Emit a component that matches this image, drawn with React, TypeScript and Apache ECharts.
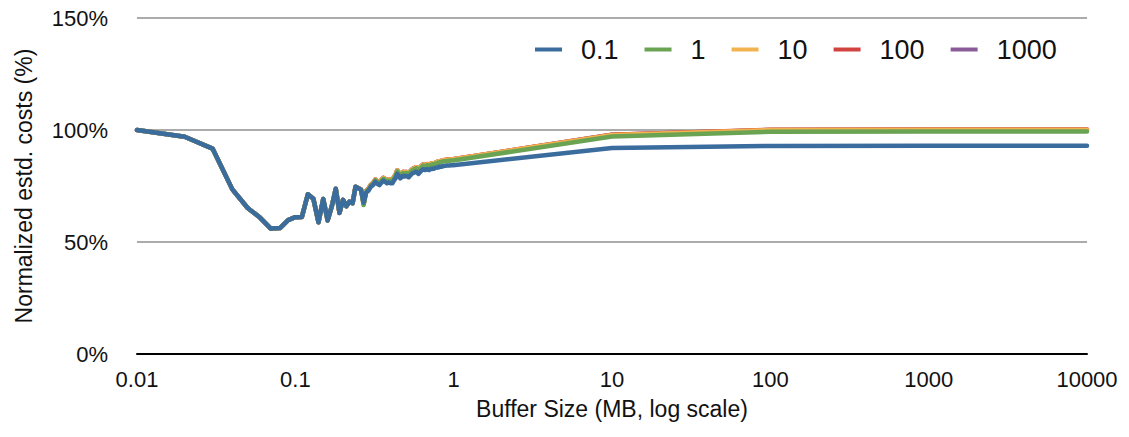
import React, { useEffect, useRef } from "react";
import * as echarts from "echarts";

// Buffer sizes in MB (x values shared by every series)
const bufferSizesMB = [
  0.01, 0.02, 0.03, 0.04, 0.05, 0.06, 0.07, 0.08, 0.09, 0.1,
  0.11, 0.12, 0.13, 0.14, 0.15, 0.16, 0.17, 0.18, 0.19, 0.2,
  0.21, 0.22, 0.23, 0.24, 0.25, 0.26, 0.27, 0.28, 0.29, 0.3,
  0.31, 0.32, 0.33, 0.34, 0.35, 0.36, 0.37, 0.38, 0.39, 0.4,
  0.41, 0.42, 0.43, 0.44, 0.45, 0.46, 0.47, 0.48, 0.49, 0.5,
  0.51, 0.52, 0.53, 0.54, 0.55, 0.56, 0.57, 0.58, 0.59, 0.6,
  0.61, 0.62, 0.63, 0.64, 0.65, 0.66, 0.67, 0.68, 0.69, 0.7,
  0.71, 0.72, 0.73, 0.74, 0.75, 0.76, 0.77, 0.78, 0.79, 0.8,
  0.81, 0.82, 0.83, 0.84, 0.85, 0.86, 0.87, 0.88, 0.89, 0.9,
  0.91, 0.92, 0.93, 0.94, 0.95, 0.96, 0.97, 0.98, 0.99, 1.0,
  10, 100, 1000, 10000,
];

// Costs for 0.01–0.25 MB, identical for every setting
const headCosts = [
  100.0, 97.0, 91.7, 73.5, 65.2,
  60.8, 56.0, 56.2, 59.8, 61.1,
  61.2, 71.3, 69.3, 58.8, 69.2,
  59.6, 66.0, 73.8, 63.0, 68.8,
  66.0, 68.0, 67.3, 74.7, 74.0,
];

// Costs for 0.26–1.00 MB
const tailCosts01 = [
  73.2, 67.5, 72.0, 73.0, 74.7,
  75.5, 76.9, 76.0, 75.4, 76.5,
  77.4, 76.8, 76.2, 76.6, 76.2,
  76.2, 77.5, 78.5, 80.4, 79.5,
  78.4, 79.0, 79.6, 79.2, 79.5,
  79.3, 78.9, 79.6, 80.2, 80.7,
  80.9, 81.2, 81.4, 80.8, 80.4,
  81.0, 81.6, 82.0, 82.5, 82.4,
  82.1, 82.3, 82.6, 82.2, 82.1,
  82.5, 82.7, 82.6, 82.8, 82.7,
  82.9, 83.1, 83.3, 83.2, 83.5,
  83.4, 83.6, 83.7, 83.6, 83.8,
  83.9, 83.9, 84.0, 84.0, 84.1,
  84.1, 84.1, 84.2, 84.2, 84.2,
  84.3, 84.3, 84.3, 84.3, 84.3,
];

const tailCosts1 = [
  73.4, 66.5, 72.4, 73.5, 75.2,
  76.0, 77.5, 76.7, 76.1, 77.3,
  78.2, 77.6, 77.1, 77.5, 77.2,
  77.2, 78.5, 79.6, 81.5, 80.6,
  79.6, 80.2, 80.8, 80.5, 80.8,
  80.7, 80.3, 81.0, 81.6, 82.1,
  82.4, 82.7, 82.9, 82.4, 82.0,
  82.6, 83.2, 83.6, 84.1, 84.0,
  83.8, 84.0, 84.3, 83.9, 83.9,
  84.3, 84.5, 84.5, 84.7, 84.6,
  84.8, 85.0, 85.2, 85.2, 85.5,
  85.4, 85.6, 85.7, 85.7, 85.9,
  86.0, 86.0, 86.1, 86.1, 86.2,
  86.2, 86.2, 86.3, 86.3, 86.3,
  86.4, 86.4, 86.4, 86.4, 86.4,
];

// 0.26–1.00 MB for the 10, 100 and 1000 settings
const tailCostsLarge = [
  73.5, 67.0, 72.7, 73.8, 75.6,
  76.4, 77.9, 77.1, 76.5, 77.8,
  78.7, 78.1, 77.6, 78.0, 77.7,
  77.7, 79.0, 80.1, 82.0, 81.1,
  80.1, 80.7, 81.3, 81.0, 81.3,
  81.2, 80.8, 81.5, 82.1, 82.6,
  82.9, 83.2, 83.4, 82.9, 82.5,
  83.1, 83.7, 84.1, 84.6, 84.5,
  84.3, 84.5, 84.8, 84.4, 84.4,
  84.8, 85.0, 85.0, 85.2, 85.1,
  85.3, 85.5, 85.7, 85.7, 86.0,
  85.9, 86.1, 86.2, 86.2, 86.4,
  86.5, 86.5, 86.6, 86.6, 86.7,
  86.7, 86.7, 86.8, 86.8, 86.8,
  86.9, 86.9, 86.9, 86.9, 86.9,
];

// Costs at 10, 100, 1000 and 10000 MB
const bigCosts01 = [92.0, 92.9, 93.0, 93.0];
const bigCosts1 = [97.1, 99.2, 99.3, 99.3];
const bigCosts10 = [97.8, 100.0, 100.1, 100.1];
const bigCosts100 = [97.9, 100.1, 100.2, 100.2];
const bigCosts1000 = [97.9, 100.0, 100.1, 100.1];

const seriesNames = ["0.1", "1", "10", "100", "1000"];
const seriesColors = ["#3b6c9e", "#6aa352", "#f1b24f", "#d0433f", "#8b5a99"];

const xTickLabels = ["0.01", "0.1", "1", "10", "100", "1000", "10000"];
const yTicks = [0, 50, 100, 150];

const FONT = "'Liberation Sans', Arial, Helvetica, sans-serif";

function pairs(values: number[]) {
  return bufferSizesMB.map((x, i) => [x, values[i]]);
}

export default function App() {
  const ref = useRef<HTMLDivElement>(null);

  useEffect(() => {
    if (!ref.current) return;
    const chart = echarts.init(ref.current, undefined, { renderer: "svg" });

    const seriesValues = [
      [...headCosts, ...tailCosts01, ...bigCosts01],
      [...headCosts, ...tailCosts1, ...bigCosts1],
      [...headCosts, ...tailCostsLarge, ...bigCosts10],
      [...headCosts, ...tailCostsLarge, ...bigCosts100],
      [...headCosts, ...tailCostsLarge, ...bigCosts1000],
    ];

    chart.setOption({
      animation: false,
      backgroundColor: "#ffffff",
      grid: { left: 137, right: 42, top: 18, bottom: 83 },
      legend: {
        left: 530,
        top: 31,
        icon: "rect",
        itemWidth: 27,
        itemHeight: 4,
        itemGap: 26,
        data: seriesNames,
        textStyle: {
          fontFamily: FONT,
          fontSize: 27,
          color: "#111",
          padding: [0, 0, 0, 14],
        },
      },
      xAxis: {
        type: "log",
        logBase: 10,
        min: 0.01,
        max: 10000,
        name: "Buffer Size (MB, log scale)",
        nameLocation: "middle",
        nameGap: 43,
        nameTextStyle: { fontFamily: FONT, fontSize: 23, color: "#111" },
        axisLine: { show: true, lineStyle: { color: "#000", width: 2 } },
        axisTick: { show: false },
        splitLine: { show: false },
        minorTick: { show: false },
        axisLabel: {
          fontFamily: FONT,
          fontSize: 22,
          color: "#111",
          margin: 14,
          formatter: (v: number) => xTickLabels[Math.round(Math.log10(v)) + 2] ?? "",
        },
      },
      yAxis: {
        type: "value",
        min: yTicks[0],
        max: yTicks[yTicks.length - 1],
        interval: 50,
        name: "Normalized estd. costs (%)",
        nameLocation: "middle",
        nameGap: 102,
        nameTextStyle: { fontFamily: FONT, fontSize: 23, color: "#111" },
        axisLine: { show: false },
        axisTick: { show: false },
        splitLine: { show: true, lineStyle: { color: "#ababab", width: 2 } },
        axisLabel: {
          fontFamily: FONT,
          fontSize: 22,
          color: "#111",
          margin: 29,
          formatter: (v: number) => `${v}%`,
        },
      },
      series: seriesNames.map((name, i) => ({
        name,
        type: "line",
        data: pairs(seriesValues[i]),
        showSymbol: false,
        symbol: "none",
        z: 10 - i,
        color: seriesColors[i],
        lineStyle: { width: 4.5, color: seriesColors[i], join: "round", cap: "round" },
      })),
    });

    return () => chart.dispose();
  }, []);

  return (
    <div
      ref={ref}
      style={{ position: "fixed", left: 0, top: 0, width: 1129, height: 437 }}
    />
  );
}
